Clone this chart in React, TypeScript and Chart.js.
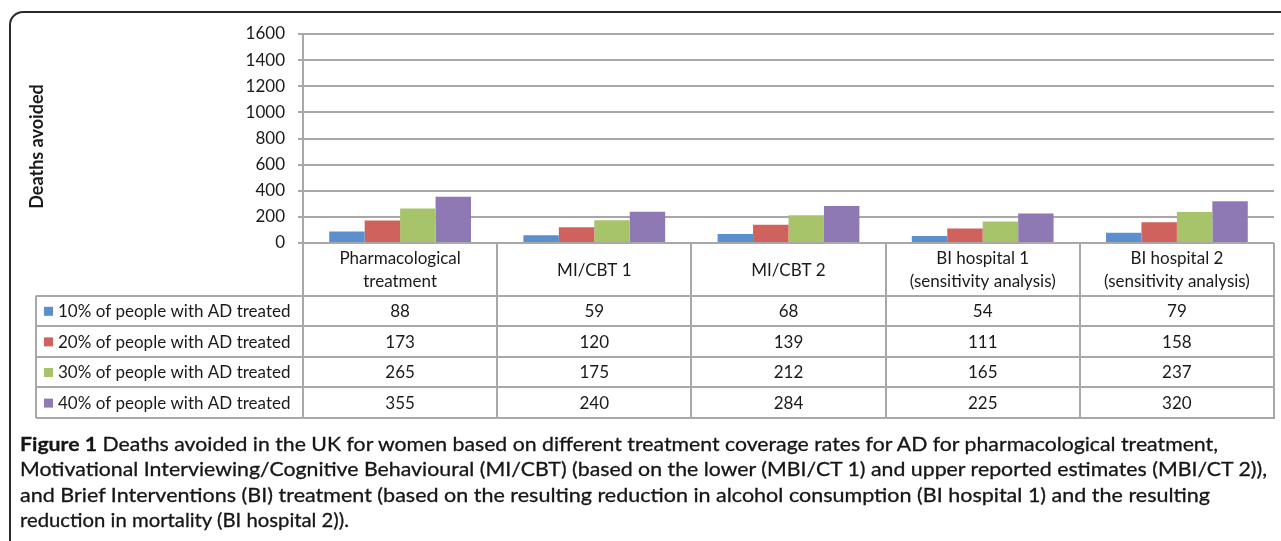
import React, { useEffect, useRef } from "react";
import { Chart, registerables } from "chart.js";

Chart.register(...registerables);

// ---------- data ----------
const categories: string[][] = [
  ["Pharmacological", "treatment"],
  ["MI/CBT 1"],
  ["MI/CBT 2"],
  ["BI hospital 1", "(sensitivity analysis)"],
  ["BI hospital 2", "(sensitivity analysis)"],
];
const seriesNames = [
  "10% of people with AD treated",
  "20% of people with AD treated",
  "30% of people with AD treated",
  "40% of people with AD treated",
];
const treated10 = [88, 59, 68, 54, 79];
const treated20 = [173, 120, 139, 111, 158];
const treated30 = [265, 175, 212, 165, 237];
const treated40 = [355, 240, 284, 225, 320];
const seriesValues = [treated10, treated20, treated30, treated40];
const yMin = 0;
const yMax = 1600;
const yStep = 200;
const axisTitle = "Deaths avoided";
const captionBold = "Figure 1";
const captionLines = [
  " Deaths avoided in the UK for women based on different treatment coverage rates for AD for pharmacological treatment,",
  "Motivational Interviewing/Cognitive Behavioural (MI/CBT) (based on the lower (MBI/CT 1) and upper reported estimates (MBI/CT 2)),",
  "and Brief Interventions (BI) treatment (based on the resulting reduction in alcohol consumption (BI hospital 1) and the resulting",
  "reduction in mortality (BI hospital 2)).",
];

// ---------- style ----------
const COLORS = ["#5B8FCD", "#D0625E", "#A8C46B", "#8E79B5"];
const GRID = "#a8a8a8";
const TEXT = "#1a1a1a";
const FONT = "Lato, 'Open Sans', sans-serif";
const CAPTION_WIDTHS = [1198, 1247, 1190, 329];

const tablePlugin = {
  id: "dataTable",
  afterDraw(chart: any) {
    const ctx = chart.ctx as CanvasRenderingContext2D;
    const x = chart.scales.x;
    const area = chart.chartArea;
    const n = categories.length;
    const colW = (area.right - area.left) / n;
    const tableLeft = 36;
    const headerTop = area.bottom;
    const headerH = 52.5;
    const rowH = 30.6;
    const rowsTop = headerTop + headerH;
    const tableBottom = rowsTop + seriesNames.length * rowH;

    ctx.save();
    ctx.strokeStyle = GRID;
    ctx.lineWidth = 2;
    ctx.beginPath();
    ctx.moveTo(area.left, headerTop);
    ctx.lineTo(area.right, headerTop);
    for (let r = 0; r <= seriesNames.length; r++) {
      const y = Math.round(rowsTop + r * rowH);
      ctx.moveTo(tableLeft, y);
      ctx.lineTo(area.right + 1, y);
    }
    ctx.moveTo(tableLeft, rowsTop);
    ctx.lineTo(tableLeft, tableBottom);
    for (let c = 0; c <= n; c++) {
      const cx = Math.round(c < n ? x.getPixelForValue(c) - colW / 2 : x.getPixelForValue(n - 1) + colW / 2);
      ctx.moveTo(cx, headerTop);
      ctx.lineTo(cx, Math.round(tableBottom) + 1);
    }
    ctx.stroke();

    ctx.fillStyle = TEXT;
    ctx.font = `17px ${FONT}`;
    ctx.textAlign = "center";
    ctx.textBaseline = "middle";
    const lh = 23;
    categories.forEach((lines, i) => {
      const cx = x.getPixelForValue(i);
      const mid = headerTop + headerH / 2 + 1;
      lines.forEach((ln, k) => {
        ctx.fillText(ln, cx, mid + (k - (lines.length - 1) / 2) * lh);
      });
    });

    seriesNames.forEach((name, r) => {
      const cy = rowsTop + (r + 0.5) * rowH + 1;
      ctx.fillStyle = COLORS[r];
      ctx.fillRect(44, cy - 5, 9, 9);
      ctx.fillStyle = TEXT;
      ctx.textAlign = "left";
      ctx.fillText(name, 58, cy);
      ctx.textAlign = "center";
      seriesValues[r].forEach((v, i) => {
        ctx.fillText(String(v), x.getPixelForValue(i), cy);
      });
    });

    // axis title
    ctx.save();
    ctx.translate(37, 146.5);
    ctx.rotate(-Math.PI / 2);
    ctx.font = `bold 18px ${FONT}`;
    ctx.textAlign = "center";
    ctx.textBaseline = "middle";
    ctx.fillText(axisTitle, 0, 0);
    ctx.restore();
    ctx.restore();
  },
};

export default function App() {
  const canvasRef = useRef<HTMLCanvasElement | null>(null);
  const lineRefs = useRef<(HTMLSpanElement | null)[]>([]);

  useEffect(() => {
    const canvas = canvasRef.current;
    if (!canvas) return;
    const chart = new Chart(canvas, {
      type: "bar",
      data: {
        labels: categories,
        datasets: seriesNames.map((name, i) => ({
          label: name,
          data: seriesValues[i],
          backgroundColor: COLORS[i],
          borderWidth: 0,
          barPercentage: 1,
          categoryPercentage: 0.73,
        })),
      },
      options: {
        animation: false,
        responsive: false,
        devicePixelRatio: 1,
        layout: { padding: { left: 24, right: 7, top: 34, bottom: 298 } },
        plugins: { legend: { display: false }, tooltip: { enabled: false }, title: { display: false } },
        scales: {
          x: { display: false },
          y: {
            min: yMin,
            max: yMax,
            afterFit: (scale: any) => {
              scale.width = 279;
            },
            ticks: {
              stepSize: yStep,
              padding: 13,
              color: TEXT,
              font: { family: FONT, size: 17 },
              callback: (v: any) => String(v),
            },
            grid: { color: GRID, lineWidth: 2, tickLength: 5, drawTicks: true },
            border: { display: true, color: GRID, width: 2 },
          },
        },
      },
      plugins: [tablePlugin],
    });
    return () => chart.destroy();
  }, []);

  useEffect(() => {
    const fit = () => {
      lineRefs.current.forEach((el, i) => {
        if (!el) return;
        el.style.transform = "none";
        const w = el.getBoundingClientRect().width;
        if (w > 0) el.style.transform = `scaleX(${CAPTION_WIDTHS[i] / w})`;
      });
    };
    fit();
    (document as any).fonts?.ready?.then(fit);
  }, []);

  return (
    <div style={{ position: "fixed", left: 0, top: 0, width: 1281, height: 541, overflow: "hidden", background: "#fff" }}>
      <div
        style={{
          position: "absolute",
          left: 9,
          top: 11,
          width: 1320,
          height: 620,
          border: "2px solid #2a2a2a",
          borderRadius: 14,
          boxSizing: "border-box",
        }}
      />
      <canvas ref={canvasRef} width={1281} height={541} style={{ position: "absolute", left: 0, top: 0, width: 1281, height: 541 }} />
      <div
        style={{
          position: "absolute",
          left: 20,
          top: 431,
          fontFamily: "Lato, 'Open Sans', sans-serif",
          fontSize: 19.5,
          lineHeight: "25.3px",
          color: "#161616",
          WebkitTextStroke: "0.3px #161616",
        }}
      >
        {captionLines.map((ln, i) => (
          <div key={i} style={{ whiteSpace: "nowrap", height: 25.3 }}>
            <span
              ref={(el) => {
                lineRefs.current[i] = el;
              }}
              style={{ display: "inline-block", transformOrigin: "0 50%" }}
            >
              {i === 0 ? <b>{captionBold}</b> : null}
              {ln}
            </span>
          </div>
        ))}
      </div>
    </div>
  );
}
